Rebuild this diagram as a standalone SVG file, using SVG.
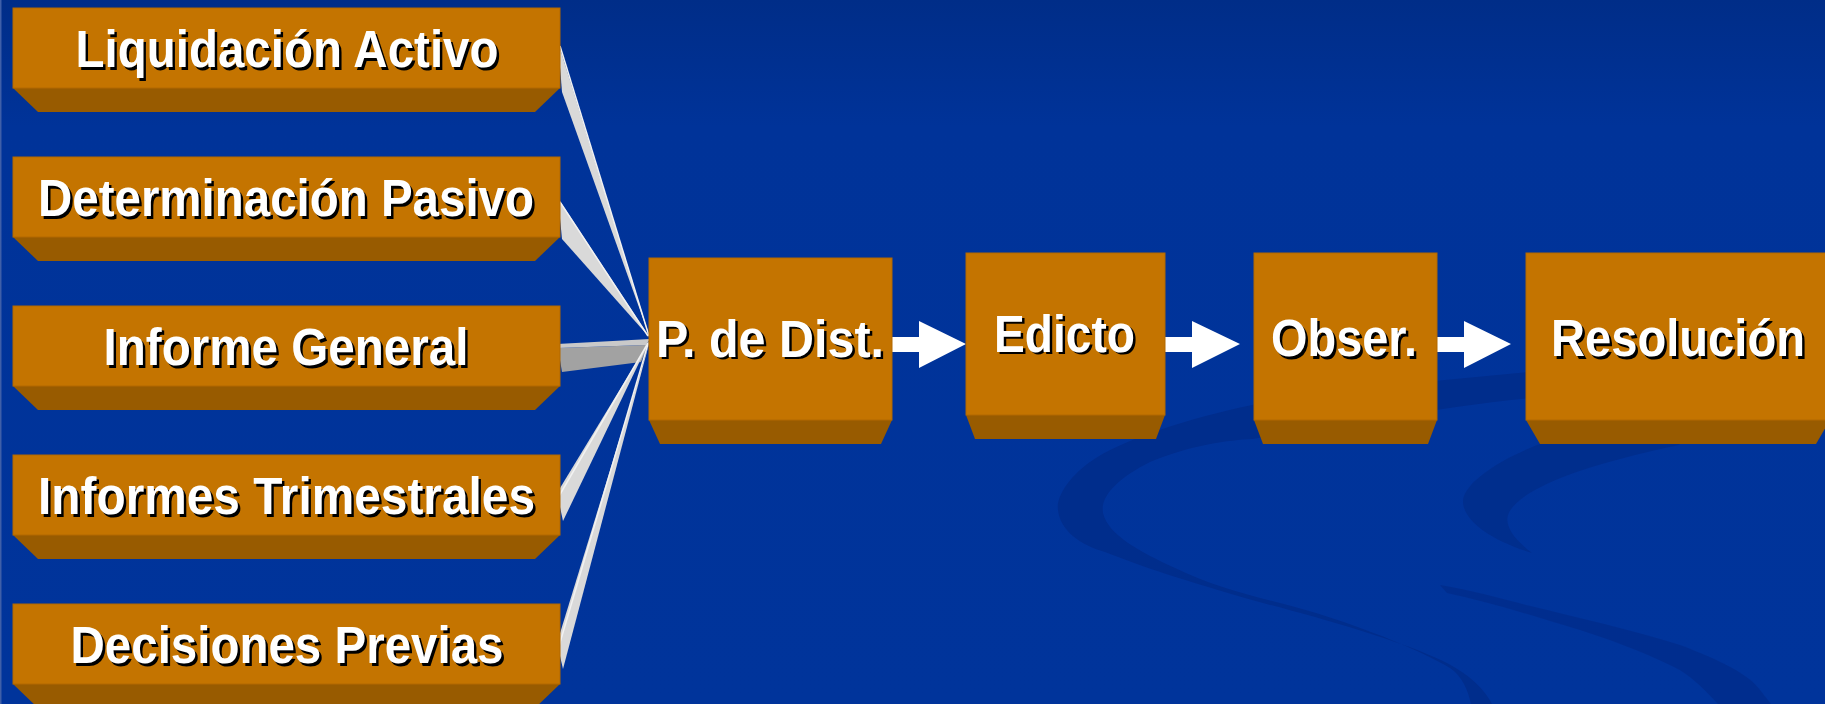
<svg xmlns="http://www.w3.org/2000/svg" width="1825" height="704" viewBox="0 0 1825 704">
<defs>
<linearGradient id="bg" x1="0" y1="0" x2="0" y2="1">
<stop offset="0" stop-color="#002D88"/>
<stop offset="0.18" stop-color="#003399"/>
<stop offset="1" stop-color="#00349B"/>
</linearGradient>
<style>
.front{fill:#C47400;stroke:#B26900;stroke-width:1}
.bot{fill:#985B00}
.lbl{font-family:"Liberation Sans",Arial,sans-serif;font-weight:bold;font-size:51px;text-anchor:middle}
.sh{fill:#000000}
.tx{fill:#FFFFFF}
.swoosh{fill:#002D8C}
.wedge{fill:#D9D9D9}
.ridge{stroke:#F2F2F2;stroke-width:1.5;fill:none}
.arrow{fill:#FFFFFF}
</style>
</defs>
<rect x="0" y="0" width="1825" height="704" fill="url(#bg)"/>
<rect x="0" y="0" width="1.5" height="704" fill="#3F5FA8"/>
<g id="background-swooshes">
<path class="swoosh" d="M1530 372 C1420 382 1300 395 1252 405 C1190 418 1120 440 1090 462 C1065 480 1056 500 1058 510 C1060 530 1080 545 1105 552 C1150 570 1200 585 1263 603 C1320 618 1400 640 1447 663 C1470 675 1485 690 1492 704 L1471 704 C1468 690 1462 676 1450 668 C1420 650 1370 630 1316 613 C1260 597 1220 590 1175 568 C1140 552 1108 535 1103 513 C1100 495 1120 477 1150 462 C1190 445 1230 440 1252 439 C1330 428 1430 408 1530 398 Z"/>
<path class="swoosh" opacity="0.9" d="M1700 420 C1620 425 1560 435 1530 448 C1490 465 1465 485 1463 500 C1462 520 1490 540 1532 553 C1512 538 1505 525 1508 515 C1515 495 1560 470 1679 445 Z"/>
<path class="swoosh" opacity="0.85" d="M1440 585 C1470 590 1500 598 1526 605 C1580 618 1632 630 1680 645 C1720 660 1750 675 1760 690 L1771 704 L1718 704 C1700 685 1690 675 1674 667 C1640 650 1610 640 1580 630 C1530 615 1490 602 1447 593 Z"/>
</g>
<g id="connectors">
<polygon class="wedge" points="558,42 650,338 562,92"/>
<line class="ridge" x1="560" y1="46" x2="649" y2="336"/>
<polygon class="wedge" points="558,198 650,338 562,239"/>
<line class="ridge" x1="560" y1="202" x2="648" y2="336"/>
<polygon fill="#A2A2A2" points="558,348 646,345 650,340 641,362 562,372"/>
<polygon fill="#C9C9C9" points="557,344 650,339 646,345 558,348"/>
<polygon class="wedge" points="557,493 650,340 563,521"/>
<line class="ridge" x1="559" y1="496" x2="648" y2="343"/>
<polygon class="wedge" points="557,643 650,340 563,669"/>
<line class="ridge" x1="559" y1="646" x2="648" y2="344"/>
<polygon class="arrow" points="892,337 919,337 919,321 966,344 919,368 919,352 892,352"/>
<polygon class="arrow" points="1165,337 1192,337 1192,321 1240,344 1192,368 1192,352 1165,352"/>
<polygon class="arrow" points="1437,337 1464,337 1464,321 1511,344 1464,368 1464,352 1437,352"/>
</g>
<g id="node-liquidacion">
<polygon class="bot" points="13,88 560,88 535,112 38,112"/>
<rect class="front" x="13" y="8" width="547" height="80"/>
<text class="lbl sh" x="289.5" y="69.5" textLength="423" lengthAdjust="spacingAndGlyphs">Liquidación Activo</text>
<text class="lbl tx" x="287" y="67" textLength="423" lengthAdjust="spacingAndGlyphs">Liquidación Activo</text>
</g>
<g id="node-determinacion">
<polygon class="bot" points="13,237 560,237 535,261 38,261"/>
<rect class="front" x="13" y="157" width="547" height="80"/>
<text class="lbl sh" x="288.5" y="218.5" textLength="496" lengthAdjust="spacingAndGlyphs">Determinación Pasivo</text>
<text class="lbl tx" x="286" y="216" textLength="496" lengthAdjust="spacingAndGlyphs">Determinación Pasivo</text>
</g>
<g id="node-informe-general">
<polygon class="bot" points="13,386 560,386 535,410 38,410"/>
<rect class="front" x="13" y="306" width="547" height="80"/>
<text class="lbl sh" x="288.5" y="367.5" textLength="365" lengthAdjust="spacingAndGlyphs">Informe General</text>
<text class="lbl tx" x="286" y="365" textLength="365" lengthAdjust="spacingAndGlyphs">Informe General</text>
</g>
<g id="node-informes-trimestrales">
<polygon class="bot" points="13,535 560,535 535,559 38,559"/>
<rect class="front" x="13" y="455" width="547" height="80"/>
<text class="lbl sh" x="289" y="516.5" textLength="497" lengthAdjust="spacingAndGlyphs">Informes Trimestrales</text>
<text class="lbl tx" x="286.5" y="514" textLength="497" lengthAdjust="spacingAndGlyphs">Informes Trimestrales</text>
</g>
<g id="node-decisiones">
<polygon class="bot" points="13,684 560,684 535,708 38,708"/>
<rect class="front" x="13" y="604" width="547" height="80"/>
<text class="lbl sh" x="289.5" y="665.5" textLength="433" lengthAdjust="spacingAndGlyphs">Decisiones Previas</text>
<text class="lbl tx" x="287" y="663" textLength="433" lengthAdjust="spacingAndGlyphs">Decisiones Previas</text>
</g>
<g id="node-p-de-dist">
<polygon class="bot" points="649,420 892,420 881,444 660,444"/>
<rect class="front" x="649" y="258" width="243" height="162"/>
<text class="lbl sh" x="772.5" y="359" textLength="228" lengthAdjust="spacingAndGlyphs">P. de Dist.</text>
<text class="lbl tx" x="770" y="356.5" textLength="228" lengthAdjust="spacingAndGlyphs">P. de Dist.</text>
</g>
<g id="node-edicto">
<polygon class="bot" points="966,415 1165,415 1156,439 975,439"/>
<rect class="front" x="966" y="253" width="199" height="162"/>
<text class="lbl sh" x="1067" y="354" textLength="141" lengthAdjust="spacingAndGlyphs">Edicto</text>
<text class="lbl tx" x="1064.5" y="351.5" textLength="141" lengthAdjust="spacingAndGlyphs">Edicto</text>
</g>
<g id="node-obser">
<polygon class="bot" points="1254,420 1437,420 1428,444 1263,444"/>
<rect class="front" x="1254" y="253" width="183" height="167"/>
<text class="lbl sh" x="1346.5" y="358.5" textLength="146" lengthAdjust="spacingAndGlyphs">Obser.</text>
<text class="lbl tx" x="1344" y="356" textLength="146" lengthAdjust="spacingAndGlyphs">Obser.</text>
</g>
<g id="node-resolucion">
<polygon class="bot" points="1526,420 1830,420 1816,444 1540,444"/>
<rect class="front" x="1526" y="253" width="304" height="167"/>
<text class="lbl sh" x="1680.5" y="358.5" textLength="254" lengthAdjust="spacingAndGlyphs">Resolución</text>
<text class="lbl tx" x="1678" y="356" textLength="254" lengthAdjust="spacingAndGlyphs">Resolución</text>
</g>
</svg>
